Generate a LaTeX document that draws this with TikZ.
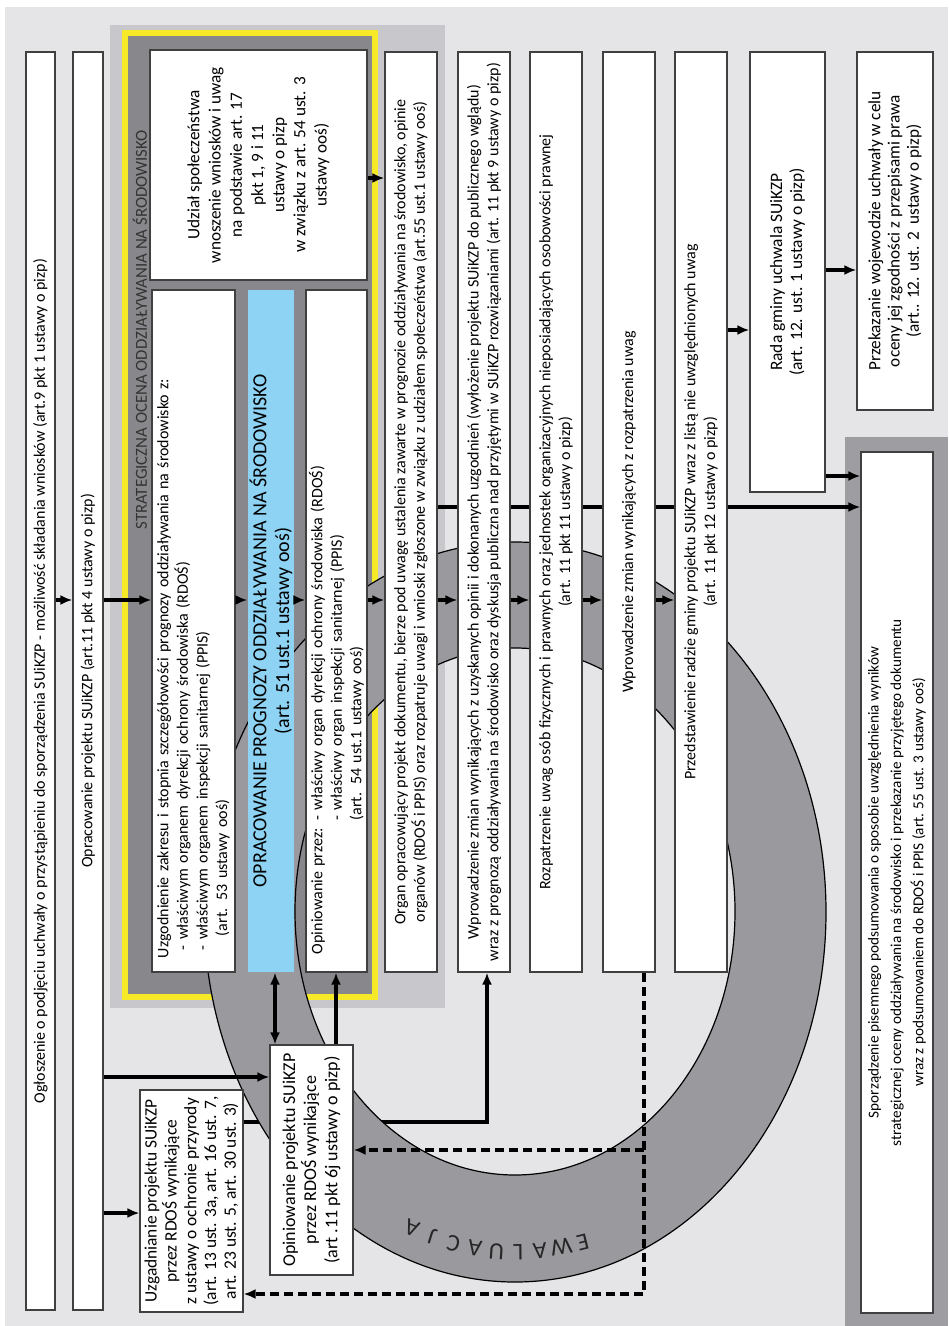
\documentclass[tikz,border=0pt]{standalone}
\usepackage{fontspec}
\setmainfont{Carlito}
\usetikzlibrary{arrows.meta,positioning,calc}

\definecolor{pagegray}{RGB}{229,229,231}
\definecolor{bandgray}{RGB}{200,200,204}
\definecolor{soogray}{RGB}{136,136,140}
\definecolor{ringgray}{RGB}{153,153,158}
\definecolor{framegray}{RGB}{158,158,162}
\definecolor{progblue}{RGB}{142,211,243}
\definecolor{sooyellow}{RGB}{246,234,40}

\pgfdeclarelayer{back}
\pgfdeclarelayer{under}
\pgfdeclarelayer{ringl}
\pgfdeclarelayer{lowl}
\pgfsetlayers{back,under,ringl,lowl,main}

\tikzset{
  box/.style={draw=black!75, line width=0.6pt, fill=white, rotate=90, inner sep=2pt, align=center},
  arr/.style={line width=1.7pt, -{Latex[length=6pt,width=5pt]}},
  dblarr/.style={line width=1.7pt, {Latex[length=6pt,width=5pt]}-{Latex[length=6pt,width=5pt]}},
  dasharr/.style={line width=1.7pt, dash pattern=on 4.5pt off 2.5pt, -{Latex[length=6pt,width=5pt]}}
}

\begin{document}
\begin{tikzpicture}[x=0.5pt, y=-0.5pt, font=\fontsize{8}{9.8}\selectfont]
\useasboundingbox (0,0) rectangle (948,1326);

\coordinate (rowudz) at (0,178);
\coordinate (rowprzek) at (0,270);
\coordinate (rowrada) at (0,330);
\coordinate (rowpods) at (0,476);
\coordinate (rowlong) at (0,507);
\coordinate (rowmain) at (0,600);
\coordinate (rowopin) at (0,1077);
\coordinate (rowlink) at (0,1122);
\coordinate (rowdashA) at (0,1150);
\coordinate (rowuzgad) at (0,1213);
\coordinate (rowdashB) at (0,1294);
\coordinate (colbi) at (275,0);
\coordinate (colop) at (336,0);
\coordinate (colwp) at (487,0);
\coordinate (coldash) at (644,0);

% kolumny
\node[box, minimum width=629pt, minimum height=14.5pt] (ogl) at (40.5,681) {Ogłoszenie o podjęciu uchwały o przystąpieniu do sporządzenia SUiKZP - możliwość składania wniosków (art.9 pkt 1 ustawy o pizp)};
\node[box, minimum width=629pt, minimum height=15pt] (opr) at (88,681) {Opracowanie projektu SUiKZP (art.11 pkt 4 ustawy o pizp)};

% strategiczna ocena
\node[rotate=90, text=black!80, font=\fontsize{8.4}{10}\selectfont] (sooh) at (140,330) {STRATEGICZNA OCENA ODDZIAŁYWANIA NA ŚRODOWISKO};
\node[box, minimum width=115pt, minimum height=108.5pt, font=\fontsize{8.6}{10.6}\selectfont] (udzial) at (258.5,165) {Udział społeczeństwa\\wnoszenie wniosków i uwag\\na podstawie art. 17\\pkt 1, 9 i 11\\ustawy o pizp\\w związku z art. 54 ust. 3\\ustawy ooś)};
\node[box, minimum width=341pt, minimum height=41.5pt, text width=327pt, align=left, inner xsep=7pt, inner ysep=1pt] (uzg) at (193.5,631) {Uzgodnienie zakresu i stopnia szczegółowości prognozy oddziaływania na środowisko z:\\
\hspace*{4pt}- właściwym organem dyrekcji ochrony środowiska (RDOŚ)\\
\hspace*{4pt}- właściwym organem inspekcji sanitarnej (PPIS)\\
\hspace*{11pt}(art. 53 ustawy ooś)};
\node[box, fill=progblue, draw=none, minimum width=341pt, minimum height=23pt, inner ysep=0pt, font=\fontsize{10}{11.4}\selectfont] (prog) at (271,631) {OPRACOWANIE PROGNOZY ODDZIAŁYWANIA NA ŚRODOWISKO\\(art. 51 ust.1 ustawy ooś)};
\node[box, minimum width=341pt, minimum height=30.5pt, text width=323pt, align=left, inner xsep=9pt, inner ysep=0.5pt] (opin) at (336.5,631) {Opiniowanie przez: - właściwy organ dyrekcji ochrony środowiska (RDOŚ)\\
\phantom{Opiniowanie przez: }- właściwy organ inspekcji sanitarnej (PPIS)\\
\phantom{Opiniowanie przez: }(art. 54 ust.1 ustawy ooś)};

% etapy
\node[box, minimum width=460pt, minimum height=26pt] (organ) at (411,512) {Organ opracowujący projekt dokumentu, bierze pod uwagę ustalenia zawarte w prognozie oddziaływania na środowisko, opinie\\organów (RDOŚ i PPIS) oraz rozpatruje uwagi i wnioski zgłoszone w związku z udziałem społeczeństwa (art.55 ust.1 ustawy ooś)};
\node[box, minimum width=460pt, minimum height=26pt] (wpr1) at (484,512) {Wprowadzenie zmian wynikających z uzyskanych opinii i dokonanych uzgodnień (wyłożenie projektu SUiKZP do publicznego wglądu)\\wraz z prognozą oddziaływania na środowisko oraz dyskusja publiczna nad przyjętymi w SUiKZP rozwiązaniami (art. 11 pkt 9 ustawy o pizp)};
\node[box, minimum width=460pt, minimum height=26pt] (rozp) at (556,512) {Rozpatrzenie uwag osób fizycznych i prawnych oraz jednostek organizacyjnych nieposiadających osobowości prawnej\\(art. 11 pkt 11 ustawy o pizp)};
\node[box, minimum width=460pt, minimum height=26pt] (wpr2) at (629,512) {Wprowadzenie zmian wynikających z rozpatrzenia uwag};
\node[box, minimum width=460pt, minimum height=26pt] (przed) at (701,512) {Przedstawienie radzie gminy projektu SUiKZP wraz z listą nie uwzględnionych uwag\\(art. 11 pkt 12 ustawy o pizp)};
\node[box, minimum width=220pt, minimum height=37.5pt, font=\fontsize{8.7}{10}\selectfont] (rada) at (787.5,272) {Rada gminy uchwala SUiKZP\\(art. 12. ust. 1 ustawy o pizp)};
\node[box, minimum width=179pt, minimum height=38pt, font=\fontsize{8.6}{9.6}\selectfont] (przek) at (895,231) {Przekazanie wojewodzie uchwały w celu\\oceny jej zgodności z przepisami prawa\\(art.. 12. ust. 2 \ ustawy o pizp)};
\node[box, minimum width=430.5pt, minimum height=36pt, font=\fontsize{7.6}{11.2}\selectfont] (podsum) at (897,882.5) {Sporządzenie pisemnego podsumowania o sposobie uwzględnienia wyników\\strategicznej oceny oddziaływania na środowisko i przekazanie przyjętego dokumentu\\wraz z podsumowaniem do RDOŚ i PPIS (art. 55 ust. 3 ustawy ooś)};

% RDOS
\node[box, minimum width=111pt, minimum height=51.5pt, inner sep=0.5pt, font=\fontsize{8.7}{9.9}\selectfont] (uzgad) at (191.5,1201) {Uzgadnianie projektu SUiKZP\\przez RDOŚ wynikające\\z ustawy o ochronie przyrody\\(art. 13 ust. 3a, art. 16 ust. 7,\\art. 23 ust. 5, art. 30 ust. 3)};
\node[box, minimum width=115pt, minimum height=41.5pt, font=\fontsize{9}{10.6}\selectfont] (opinproj) at (311.5,1160) {Opiniowanie projektu SUiKZP\\przez RDOŚ wynikające\\(art .11 pkt 6j ustawy o pizp)};

\begin{pgfonlayer}{back}
  \fill[pagegray] (5,7) rectangle (948,1326);
  \fill[bandgray] (110,25) rectangle (445,1008);
  \fill[sooyellow] (122,30) rectangle (378,1000);
  \fill[soogray] (128,36) rectangle (372,994);
  \fill[framegray] (845,437) rectangle (948,1326);
\end{pgfonlayer}

\begin{pgfonlayer}{under}
  \draw[arr] (uzgad.south |- rowlink) -| (wpr1.west -| colwp);
\end{pgfonlayer}

% ewaluacja
\begin{pgfonlayer}{ringl}
  \fill[ringgray, even odd rule] (515,912) ellipse [x radius=311, y radius=370] (515,911.5) ellipse [x radius=220, y radius=263.5];
  \draw[line width=0.6pt] (515,912) ellipse [x radius=311, y radius=370];
  \draw[line width=0.6pt] (515,911.5) ellipse [x radius=220, y radius=263.5];
  \foreach \ch [count=\i from 0] in {E,W,A,L,U,A,C,J,A} {
    \pgfmathsetmacro\ang{76+\i*4.45}
    \node[font=\fontsize{12}{14}\selectfont, text=black!85, rotate={-\ang-90}] (ew\i) at ({515+280*cos(\ang)},{912+340*sin(\ang)}) {\ch};
  }
\end{pgfonlayer}

\begin{pgfonlayer}{lowl}
  \draw[arr] (organ.south |- rowlong) -- (podsum.north |- rowlong);
\end{pgfonlayer}

\foreach \a/\b in {ogl/opr, opr/uzg, uzg/prog, prog/opin, opin/organ, organ/wpr1, wpr1/rozp, rozp/wpr2, wpr2/przed}
  \draw[arr] (\a.south |- rowmain) -- (\b.north |- rowmain);
\draw[arr] (udzial.south |- rowudz) -- (organ.north |- rowudz);
\draw[arr] (przed.south |- rowrada) -- (rada.north |- rowrada);
\draw[arr] (rada.south |- rowprzek) -- (przek.north |- rowprzek);
\draw[arr] (rada.south |- rowpods) -- (podsum.north |- rowpods);
\draw[arr] (opr.south |- rowopin) -- (opinproj.north |- rowopin);
\draw[arr] (opr.south |- rowuzgad) -- (uzgad.north |- rowuzgad);
\draw[dblarr] (prog.west -| colbi) -- (opinproj.east -| colbi);
\draw[arr] (opinproj.east -| colop) -- (opin.west -| colop);

\coordinate (dashsplit) at (coldash |- rowdashA);
\draw[dasharr] (wpr2.west -| coldash) |- (uzgad.south |- rowdashB);
\draw[dasharr] (dashsplit) -- (opinproj.south |- rowdashA);
\end{tikzpicture}
\end{document}
